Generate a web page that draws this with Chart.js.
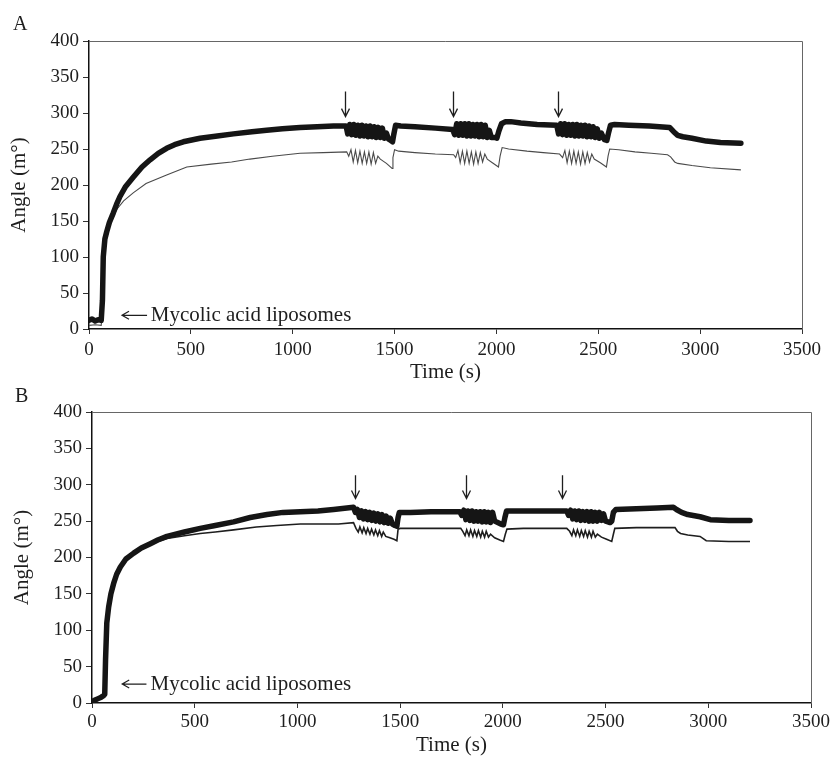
<!DOCTYPE html>
<html>
<head>
<meta charset="utf-8">
<script src="https://cdn.jsdelivr.net/npm/chart.js@4.4.0/dist/chart.umd.min.js"></script>
<style>
  body { margin: 0; background: #fff; width: 833px; height: 758px; position: relative; overflow: hidden; }
  canvas { position: absolute; left: 0; }
  #chartA { top: 0; }
  #chartB { top: 385px; }
</style>
</head>
<body>
<canvas id="chartA" width="833" height="385"></canvas>
<canvas id="chartB" width="833" height="373"></canvas>
<script>
// ---- panel A: thick trace ----
var tThickA = [0, 15, 30, 45, 60, 66, 70, 78, 87, 100, 119, 135, 152, 180, 218, 260, 300, 340, 381, 420, 463, 545, 630, 709, 800, 872, 950, 1036, 1120, 1200, 1262,
  1270, 1280, 1290, 1300, 1310, 1320, 1330, 1340, 1350, 1360, 1370, 1380, 1390, 1400, 1410, 1420, 1430, 1440, 1450, 1460, 1470, 1480, 1490, 1496, 1505, 1530, 1600, 1700, 1785,
  1795, 1805, 1815, 1825, 1835, 1845, 1855, 1865, 1875, 1885, 1895, 1905, 1915, 1925, 1935, 1945, 1955, 1965, 1975, 1990, 2002, 2012, 2025, 2045, 2070, 2120, 2200, 2296,
  2305, 2315, 2325, 2335, 2345, 2355, 2365, 2375, 2385, 2395, 2405, 2415, 2425, 2435, 2445, 2455, 2465, 2475, 2485, 2495, 2505, 2515, 2530, 2542, 2550, 2560, 2580, 2650, 2750, 2850, 2870, 2890, 2915, 2960, 3030, 3100, 3200];
var vThickA = [12, 14, 11, 13, 12, 40, 100, 125, 135, 148, 161, 173, 184, 198, 211, 225, 235, 244, 251, 256, 260, 265, 268, 271, 274, 276, 278, 280, 281, 282, 282,
  271, 284, 270, 284, 269, 283, 268, 283, 268, 282, 267, 282, 267, 281, 266, 280, 266, 279, 265, 272, 264, 262, 260, 270, 283, 282, 281, 279, 277,
  270, 285, 269, 285, 269, 285, 268, 285, 268, 284, 268, 284, 267, 284, 267, 283, 266, 276, 266, 266, 265, 275, 285, 288, 288, 286, 284, 283,
  271, 285, 270, 285, 269, 284, 269, 284, 268, 284, 268, 283, 268, 283, 267, 282, 267, 281, 266, 278, 265, 272, 263, 262, 272, 283, 284, 283, 282, 280, 274, 269, 267, 265, 261, 259, 258];

// ---- panel A: thin trace ----
var tThinA = [0, 30, 60, 66, 70, 80, 100, 120, 136, 170, 217, 280, 381, 480, 600, 700, 790, 900, 1036, 1150, 1265,
  1275, 1286, 1297, 1308, 1319, 1330, 1341, 1352, 1363, 1374, 1385, 1396, 1407, 1418, 1430, 1460, 1488, 1492, 1500, 1520, 1600, 1700, 1790,
  1800, 1811, 1822, 1833, 1844, 1855, 1866, 1877, 1888, 1899, 1910, 1921, 1932, 1943, 1955, 1980, 2010, 2018, 2028, 2060, 2150, 2230, 2310,
  2325, 2336, 2347, 2358, 2369, 2380, 2391, 2402, 2413, 2424, 2435, 2446, 2457, 2468, 2480, 2510, 2540, 2548, 2556, 2600, 2680, 2760, 2840, 2855, 2875, 2890, 2960, 3050, 3200];
var vThinA = [5, 6, 5, 30, 95, 122, 142, 157, 166, 178, 189, 202, 214, 225, 229, 232, 236, 240, 244, 245, 246,
  240, 249, 232, 248, 231, 247, 230, 246, 230, 246, 229, 245, 230, 240, 236, 230, 223, 238, 249, 247, 245, 243, 242,
  238, 248, 231, 247, 230, 247, 230, 246, 229, 246, 230, 245, 232, 243, 236, 231, 225, 240, 252, 250, 247, 245, 243,
  238, 248, 231, 247, 230, 247, 230, 246, 229, 246, 230, 245, 232, 243, 236, 231, 225, 240, 250, 249, 246, 244, 242, 239, 232, 230, 227, 224, 221];

// ---- panel B: thick trace ----
var tThickB = [0, 15, 30, 45, 56, 62, 66, 72, 81, 92, 105, 120, 138, 165, 203, 240, 284, 320, 365, 450, 527, 600, 689, 770, 852, 930, 1014, 1100, 1176, 1273,
  1282, 1292, 1302, 1312, 1322, 1332, 1342, 1352, 1362, 1372, 1382, 1392, 1402, 1412, 1422, 1432, 1442, 1452, 1462, 1475, 1484, 1490, 1496, 1550, 1650, 1790,
  1800, 1810, 1820, 1830, 1840, 1850, 1860, 1870, 1880, 1890, 1900, 1910, 1920, 1930, 1940, 1950, 1960, 1975, 1990, 2003, 2010, 2018, 2060, 2150, 2230, 2311,
  2320, 2330, 2340, 2350, 2360, 2370, 2380, 2390, 2400, 2410, 2420, 2430, 2440, 2450, 2460, 2470, 2480, 2490, 2500, 2512, 2522, 2530, 2538, 2550, 2650, 2750, 2830, 2845, 2870, 2900, 2960, 3010, 3100, 3203];
var vThickB = [2, 4, 6, 8, 10, 12, 60, 110, 132, 150, 164, 177, 187, 198, 206, 213, 219, 224, 229, 235, 240, 244, 249, 255, 259, 262, 263, 264, 266, 269,
  262, 266, 255, 264, 253, 263, 252, 262, 251, 261, 250, 260, 249, 259, 248, 257, 247, 254, 246, 244, 243, 255, 262, 262, 263, 263,
  258, 265, 252, 264, 251, 264, 250, 263, 250, 263, 249, 263, 249, 262, 248, 262, 250, 248, 246, 245, 255, 264, 264, 264, 264, 264,
  258, 265, 253, 264, 252, 264, 251, 263, 251, 263, 250, 263, 250, 262, 250, 262, 251, 260, 250, 249, 248, 250, 262, 266, 267, 268, 269, 266, 262, 259, 256, 252, 251, 251];

// ---- panel B: thin trace ----
var tThinB = [0, 15, 30, 45, 56, 62, 66, 72, 81, 92, 105, 120, 138, 165, 203, 240, 284, 320, 365, 450, 527, 600, 689, 800, 900, 1014, 1100, 1200, 1273,
  1285, 1296, 1304, 1315, 1323, 1334, 1342, 1353, 1361, 1372, 1380, 1391, 1399, 1410, 1418, 1430, 1450, 1470, 1484, 1490, 1500, 1600, 1700, 1795,
  1805, 1816, 1824, 1835, 1843, 1854, 1862, 1873, 1881, 1892, 1900, 1911, 1919, 1930, 1940, 1960, 1985, 2003, 2012, 2020, 2100, 2200, 2311,
  2325, 2336, 2344, 2355, 2363, 2374, 2382, 2393, 2401, 2412, 2420, 2431, 2439, 2450, 2460, 2480, 2505, 2530, 2538, 2545, 2650, 2750, 2838, 2850, 2865, 2900, 2960, 2990, 3100, 3203];
var vThinB = [1, 3, 5, 7, 9, 10, 55, 105, 130, 148, 162, 175, 185, 196, 204, 211, 217, 222, 226, 230, 233, 235, 238, 242, 244, 246, 246, 246, 248,
  240, 235, 242, 234, 241, 233, 240, 232, 239, 231, 238, 230, 237, 229, 235, 229, 227, 225, 223, 239, 240, 240, 240, 240,
  236, 230, 238, 230, 238, 229, 237, 229, 237, 228, 236, 228, 236, 228, 232, 227, 224, 222, 232, 239, 240, 240, 240,
  236, 230, 238, 230, 238, 229, 237, 229, 237, 228, 236, 228, 236, 228, 232, 228, 225, 222, 232, 240, 241, 241, 241, 236, 233, 231, 229, 223, 222, 222];

// axis ticks
var xTicks = [0, 500, 1000, 1500, 2000, 2500, 3000, 3500];
var yTicks = [0, 50, 100, 150, 200, 250, 300, 350, 400];

// injection arrows (time of each addition)
var arrowTimesA = [1257, 1789, 2304];
var arrowTimesB = [1281, 1820, 2290];

var SERIF = '"Liberation Serif", "Times New Roman", serif';
var INK = '#1e1e1e';

function pts(ts, vs) {
  return ts.map(function (t, i) { return { x: t, y: vs[i] }; });
}

// draws box, injection arrows, liposome note and panel letter
var decorPlugin = {
  id: 'decor',
  beforeDatasetsDraw: function (chart) {
    var ctx = chart.ctx, a = chart.chartArea;
    ctx.save();
    ctx.strokeStyle = '#666';
    ctx.lineWidth = 1;
    ctx.beginPath();
    ctx.moveTo(a.left, a.top + 0.5);
    ctx.lineTo(a.right + 0.5, a.top + 0.5);
    ctx.lineTo(a.right + 0.5, a.bottom);
    ctx.stroke();
    ctx.restore();
  },
  afterDatasetsDraw: function (chart, args, o) {
    var ctx = chart.ctx, xs = chart.scales.x, ys = chart.scales.y;
    ctx.save();
    ctx.strokeStyle = INK;
    ctx.lineWidth = 1.3;
    o.arrows.forEach(function (t) {
      var x = Math.round(xs.getPixelForValue(t)) + 0.5;
      var y1 = ys.getPixelForValue(o.arrowTop), y2 = ys.getPixelForValue(o.arrowTip);
      ctx.beginPath();
      ctx.moveTo(x, y1); ctx.lineTo(x, y2);
      ctx.moveTo(x - 4, y2 - 8); ctx.lineTo(x, y2); ctx.lineTo(x + 4, y2 - 8);
      ctx.stroke();
    });
    // liposome injection note
    var ly = ys.getPixelForValue(o.noteY);
    var ax1 = xs.getPixelForValue(o.noteArrowFrom), ax2 = xs.getPixelForValue(o.noteArrowTo);
    ctx.lineWidth = 1.2;
    ctx.beginPath();
    ctx.moveTo(ax2, ly); ctx.lineTo(ax1, ly);
    ctx.moveTo(ax1 + 7, ly - 4); ctx.lineTo(ax1, ly); ctx.lineTo(ax1 + 7, ly + 4);
    ctx.stroke();
    ctx.fillStyle = INK;
    ctx.font = '21px ' + SERIF;
    ctx.textBaseline = 'middle';
    ctx.textAlign = 'left';
    ctx.fillText('Mycolic acid liposomes', xs.getPixelForValue(o.noteTextAt), ly);
    // panel letter
    ctx.font = '20px ' + SERIF;
    ctx.fillText(o.panel, o.panelX, o.panelY);
    ctx.restore();
  }
};

function makeChart(id, thick, thin, dec, lay) {
  return new Chart(document.getElementById(id), {
    type: 'scatter',
    data: {
      datasets: [
        { data: thick, showLine: true, borderColor: '#151515', borderWidth: 5.5, pointRadius: 0, borderJoinStyle: 'round', borderCapStyle: 'round', tension: 0 },
        { data: thin, showLine: true, borderColor: dec.thinColor, borderWidth: dec.thinWidth, pointRadius: 0, tension: 0 }
      ]
    },
    options: {
      responsive: false,
      animation: false,
      events: [],
      layout: { padding: { left: lay.left, right: lay.right, top: lay.top, bottom: 0 } },
      plugins: { legend: { display: false }, tooltip: { enabled: false }, decor: dec },
      scales: {
        x: {
          type: 'linear', min: 0, max: 3500,
          afterBuildTicks: function (s) { s.ticks = xTicks.map(function (v) { return { value: v }; }); },
          afterFit: function (s) { s.height = lay.xh; },
          ticks: { color: INK, font: { family: SERIF, size: 19 }, padding: lay.xpad, maxRotation: 0, autoSkip: false,
            callback: function (v) { return String(v); } },
          grid: { display: true, drawOnChartArea: false, drawTicks: true, tickLength: 5, color: '#333' },
          border: { display: true, color: '#111', width: 1.5 },
          title: { display: true, text: 'Time (s)', color: INK, font: { family: SERIF, size: 21 }, padding: 0 }
        },
        y: {
          type: 'linear', min: 0, max: 400,
          afterBuildTicks: function (s) { s.ticks = yTicks.map(function (v) { return { value: v }; }); },
          afterFit: function (s) { s.width = lay.yw; },
          ticks: { color: INK, font: { family: SERIF, size: 19 }, padding: 4, autoSkip: false,
            callback: function (v) { return String(v); } },
          grid: { display: true, drawOnChartArea: false, drawTicks: true, tickLength: 6, color: '#333' },
          border: { display: true, color: '#111', width: 1.5 },
          title: { display: true, text: 'Angle (m°)', color: INK, font: { family: SERIF, size: 21 }, padding: 0 }
        }
      }
    },
    plugins: [decorPlugin]
  });
}

makeChart('chartA', pts(tThickA, vThickA), pts(tThinA, vThinA),
  { arrows: arrowTimesA, arrowTop: 330, arrowTip: 295, noteY: 19, noteArrowFrom: 162, noteArrowTo: 285, noteTextAt: 303,
    panel: 'A', panelX: 13, panelY: 25, thinColor: '#4a4a4a', thinWidth: 1.1 },
  { left: 7, right: 31, top: 41, yw: 82, xh: 56, xpad: 5 });

makeChart('chartB', pts(tThickB, vThickB), pts(tThinB, vThinB),
  { arrows: arrowTimesB, arrowTop: 313, arrowTip: 281, noteY: 26, noteArrowFrom: 147, noteArrowTo: 265, noteTextAt: 285,
    panel: 'B', panelX: 15, panelY: 12, thinColor: '#1e1e1e', thinWidth: 1.6 },
  { left: 10, right: 22, top: 27, yw: 82, xh: 55, xpad: 3 });
</script>
</body>
</html>
